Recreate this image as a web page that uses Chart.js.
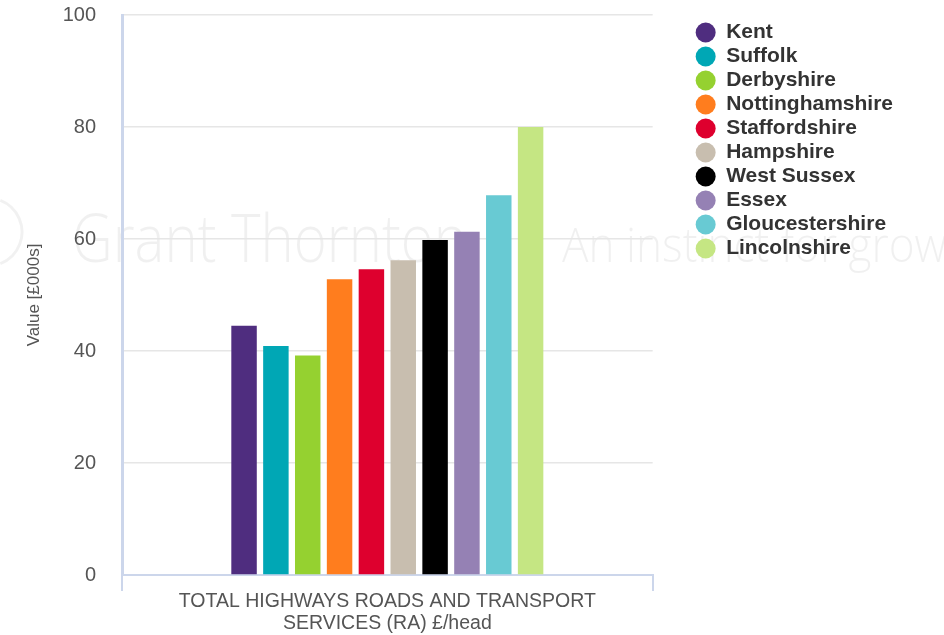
<!DOCTYPE html>
<html>
<head>
<meta charset="utf-8">
<script src="https://cdn.jsdelivr.net/npm/chart.js@4.4.1/dist/chart.umd.min.js"></script>
<style>
  html, body { margin: 0; padding: 0; background: #ffffff; }
  #wrap { width: 944px; height: 635px; position: relative; }
</style>
</head>
<body>
<div id="wrap"><canvas id="c"></canvas></div>
<script>
// ---- data ----
const categories = [['TOTAL HIGHWAYS ROADS AND TRANSPORT', 'SERVICES (RA) £/head']];
const counties = ['Kent', 'Suffolk', 'Derbyshire', 'Nottinghamshire', 'Staffordshire',
                  'Hampshire', 'West Sussex', 'Essex', 'Gloucestershire', 'Lincolnshire'];
const values = [44.5, 40.9, 39.2, 52.8, 54.6, 56.2, 59.8, 61.3, 67.8, 80.0];
const yTicks = [0, 20, 40, 60, 80, 100];
const yTitle = 'Value [£000s]';
const watermarkMain = 'Grant Thornton';
const watermarkTag = 'An instinct for growth';

// ---- styles ----
const colours = ['#4f2d7f', '#00a7b5', '#95d130', '#ff7d1e', '#de002e',
                 '#c8beaf', '#000000', '#9581b4', '#68cad3', '#c5e683'];
const FONT = '"Liberation Sans", Arial, Helvetica, sans-serif';
const AXIS_BLUE = '#ccd6eb';
const LEGEND_GAP = 40;
const LEGEND_DROP = 4;

const datasets = counties.map((name, i) => ({
  label: name,
  data: [values[i]],
  backgroundColor: colours[i],
  borderWidth: 0,
  categoryPercentage: 0.6,
  barPercentage: 0.8
}));

const watermarkPlugin = {
  id: 'watermark',
  beforeDraw(chart) {
    const ctx = chart.ctx;
    ctx.save();
    ctx.fillStyle = 'rgba(0,0,0,0.06)';
    ctx.textBaseline = 'alphabetic';
    ctx.textAlign = 'left';
    ctx.save();
    ctx.translate(72, 262);
    ctx.scale(0.84, 1);
    ctx.font = '300 67px "Open Sans", ' + FONT;
    ctx.fillText(watermarkMain, 0, 0);
    ctx.restore();
    ctx.save();
    ctx.translate(562, 262);
    ctx.scale(0.92, 1);
    ctx.font = '300 48px "Open Sans", ' + FONT;
    ctx.fillText(watermarkTag, 0, 0);
    ctx.restore();
    ctx.strokeStyle = 'rgba(0,0,0,0.055)';
    ctx.lineWidth = 3;
    ctx.beginPath();
    ctx.arc(-12, 232, 34, -1.2, 1.2);
    ctx.stroke();
    ctx.restore();
  }
};

// leaves a gap between the plot area and the legend on the right
const legendGapPlugin = {
  id: 'legendGap',
  beforeLayout(chart) {
    const lg = chart.legend;
    if (lg && !lg.__gapPatched) {
      const fit = lg.fit;
      lg.fit = function () { fit.call(this); this.width += LEGEND_GAP; };
      lg.__gapPatched = true;
    }
  },
  afterLayout(chart) {
    if (chart.legend) {
      chart.legend.left += LEGEND_GAP;
      chart.legend.top += LEGEND_DROP;
    }
  }
};

new Chart(document.getElementById('c'), {
  type: 'bar',
  data: { labels: categories, datasets },
  plugins: [watermarkPlugin, legendGapPlugin],
  options: {
    responsive: true,
    maintainAspectRatio: false,
    animation: false,
    layout: { padding: { top: 15, right: 41, bottom: 0, left: 0 } },
    plugins: {
      legend: {
        position: 'right',
        align: 'start',
        labels: {
          usePointStyle: true,
          pointStyle: 'circle',
          pointStyleWidth: 20,
          boxHeight: 14,
          padding: 3,
          color: '#333333',
          font: { family: FONT, size: 21, weight: 'bold' }
        }
      },
      tooltip: { enabled: false }
    },
    scales: {
      x: {
        offset: true,
        grid: {
          display: true,
          offset: true,
          drawOnChartArea: false,
          drawTicks: true,
          tickLength: 16,
          color: AXIS_BLUE,
          lineWidth: 2
        },
        border: { display: true, color: AXIS_BLUE, width: 2 },
        ticks: {
          color: '#555555',
          padding: 0,
          maxRotation: 0,
          autoSkip: false,
          font: { family: FONT, size: 19.5, lineHeight: 1.13 }
        },
        afterFit(s) { s.height = 60; }
      },
      y: {
        min: 0,
        max: 100,
        afterBuildTicks(s) { s.ticks = yTicks.map(v => ({ value: v })); },
        title: {
          display: true,
          text: yTitle,
          color: '#555555',
          padding: { top: 24, bottom: 0 },
          font: { family: FONT, size: 17 }
        },
        grid: { color: '#e6e6e6', lineWidth: 1.5, drawTicks: false },
        border: { display: true, color: AXIS_BLUE, width: 3 },
        ticks: {
          color: '#555555',
          padding: 26,
          font: { family: FONT, size: 20 }
        },
        afterFit(s) {
          s.width = 122;
          s.paddingTop = 0;
          s.paddingBottom = 0;
        }
      }
    }
  }
});
</script>
</body>
</html>
